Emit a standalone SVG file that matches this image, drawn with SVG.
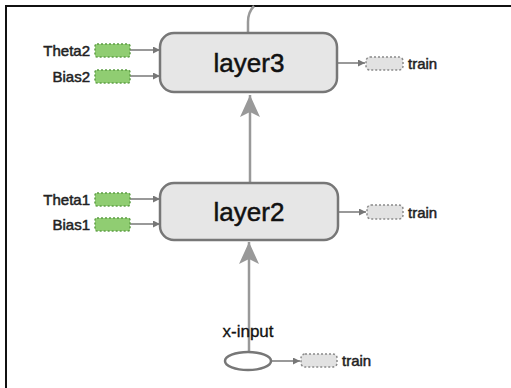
<svg xmlns="http://www.w3.org/2000/svg" width="511" height="388" viewBox="0 0 511 388">
<defs>
<style>
.layer{fill:#e6e6e6;stroke:#777;stroke-width:2.5}
.ltxt{font-family:"Liberation Sans",Arial,sans-serif;font-size:26px;fill:#111;stroke:#111;stroke-width:0.5;text-anchor:middle}
.txt{font-family:"Liberation Sans",Arial,sans-serif;font-size:15px;fill:#222;stroke:#222;stroke-width:0.5}
.var{fill:#90cd72;stroke:#5e9e45;stroke-width:1.5;stroke-dasharray:2 2}
.trn{fill:#e2e2e2;stroke:#8a8a8a;stroke-width:1.5;stroke-dasharray:2 2}
.big{stroke:#999;stroke-width:2.5;fill:none}
.sm{stroke:#777;stroke-width:1.5;fill:none}
</style>
<marker id="ah" viewBox="0 0 10 10" refX="10" refY="5" markerWidth="7" markerHeight="7" markerUnits="userSpaceOnUse" orient="auto"><path d="M0,0 L10,5 L0,10 z" fill="#777"/></marker>
<marker id="bh" viewBox="0 0 20 22" refX="10" refY="0" markerWidth="20" markerHeight="22" markerUnits="userSpaceOnUse" orient="0"><path d="M10,0 L20,22 L10,17 L0,22 z" fill="#999"/></marker>
</defs>
<rect width="511" height="388" fill="#fff"/>
<path d="M6,388 L6,6 L511,6" fill="none" stroke="#111" stroke-width="2"/>
<g id="connectors">
<path class="big" d="M248,33 L248,22 Q248,12 254,6"/>
<path class="big" d="M250,183 L250,95" marker-end="url(#bh)"/>
<path class="big" d="M249,352 L249,242" marker-end="url(#bh)"/>
<path class="sm" d="M130,50 L160,50" marker-end="url(#ah)"/>
<path class="sm" d="M130,76 L160,76" marker-end="url(#ah)"/>
<path class="sm" d="M130,199 L160,199" marker-end="url(#ah)"/>
<path class="sm" d="M130,224 L160,224" marker-end="url(#ah)"/>
<path class="sm" d="M338,63 L365,63" marker-end="url(#ah)"/>
<path class="sm" d="M338,212 L366,212" marker-end="url(#ah)"/>
<path class="sm" d="M271,361 L300,361" marker-end="url(#ah)"/>
</g>
<g id="layer3">
<rect class="layer" x="160" y="33" width="177" height="59" rx="14"/>
<text class="ltxt" x="249" y="72">layer3</text>
</g>
<g id="layer2">
<rect class="layer" x="160" y="183" width="178" height="57" rx="14"/>
<text class="ltxt" x="249" y="221">layer2</text>
</g>
<g id="theta2">
<rect class="var" x="95" y="44" width="35" height="13" rx="2"/>
<text class="txt" x="90" y="56" text-anchor="end">Theta2</text>
</g>
<g id="bias2">
<rect class="var" x="95" y="70" width="35" height="13" rx="2"/>
<text class="txt" x="90" y="82" text-anchor="end">Bias2</text>
</g>
<g id="theta1">
<rect class="var" x="95" y="193" width="35" height="13" rx="2"/>
<text class="txt" x="90" y="205" text-anchor="end">Theta1</text>
</g>
<g id="bias1">
<rect class="var" x="95" y="218" width="35" height="13" rx="2"/>
<text class="txt" x="90" y="230" text-anchor="end">Bias1</text>
</g>
<g id="train3">
<rect class="trn" x="366" y="57" width="37" height="13" rx="4"/>
<text class="txt" x="408" y="69">train</text>
</g>
<g id="train2">
<rect class="trn" x="367" y="205" width="36" height="14" rx="4"/>
<text class="txt" x="408" y="218">train</text>
</g>
<g id="xinput">
<ellipse cx="248" cy="361" rx="23" ry="9" fill="#fff" stroke="#777" stroke-width="2.5"/>
<text class="txt" x="248" y="337" text-anchor="middle" style="font-size:17px;fill:#111;stroke:#111;stroke-width:0.3">x-input</text>
</g>
<g id="train1">
<rect class="trn" x="301" y="354" width="36" height="13" rx="4"/>
<text class="txt" x="342" y="366">train</text>
</g>
</svg>
